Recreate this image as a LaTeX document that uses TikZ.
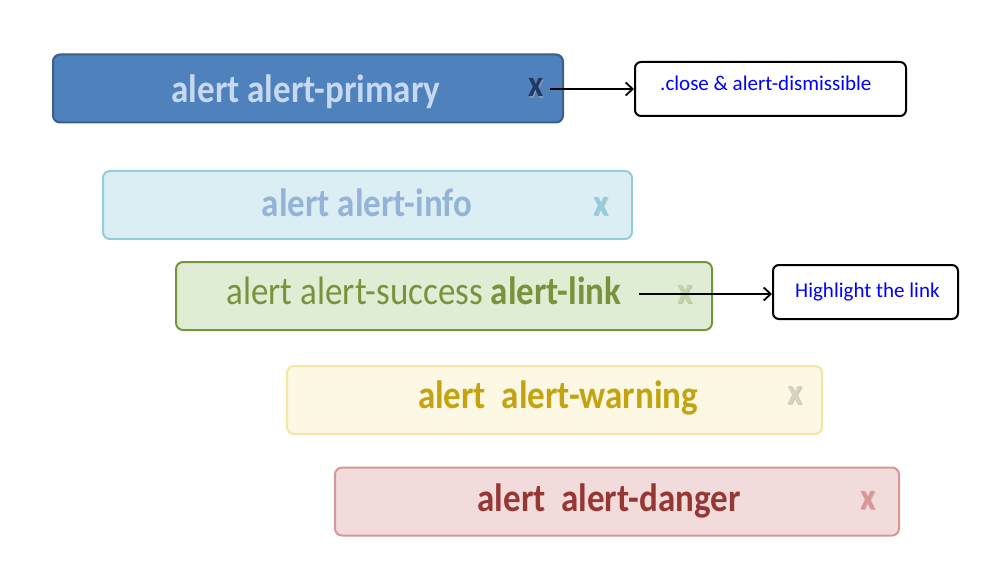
\documentclass[tikz,border=0pt]{standalone}
\usepackage{fontspec}
\setmainfont{Carlito}
\usetikzlibrary{arrows.meta}
\definecolor{pfill}{HTML}{4F81BD}
\definecolor{pborder}{HTML}{3A5F8B}
\definecolor{ptext}{HTML}{C6D9F1}
\definecolor{px}{HTML}{1F3864}
\definecolor{ifill}{HTML}{DBEEF4}
\definecolor{iborder}{HTML}{93CDDD}
\definecolor{itext}{HTML}{95B3D7}
\definecolor{ix}{HTML}{93CDDD}
\definecolor{sfill}{HTML}{DFEDD5}
\definecolor{sborder}{HTML}{77933C}
\definecolor{stext}{HTML}{77933C}
\definecolor{sx}{HTML}{C3D3A3}
\definecolor{wfill}{HTML}{FDF8E4}
\definecolor{wborder}{HTML}{F6E6A2}
\definecolor{wtext}{HTML}{C3A30F}
\definecolor{wx}{HTML}{D8D3C0}
\definecolor{dfill}{HTML}{F2DCDB}
\definecolor{dborder}{HTML}{D99694}
\definecolor{dtext}{HTML}{953735}
\definecolor{dx}{HTML}{D99694}
\definecolor{lblue}{HTML}{0000FF}
\newcommand{\tallt}[1]{\scalebox{1}[1.13]{#1}}
\begin{document}
\begin{tikzpicture}[x=1pt,y=-1pt,
  alertbox/.style={line width=2pt, rounded corners=7pt, inner sep=0pt, minimum height=68pt},
  alerttext/.style={anchor=base, inner sep=0pt, font=\fontsize{35}{38}\selectfont},
  boldtext/.style={alerttext, font=\bfseries\fontsize{35}{38}\selectfont},
  closemark/.style={anchor=base, inner sep=0pt, font=\bfseries\fontsize{33}{36}\selectfont},
  closeshadow/.style={closemark, text=black!35, opacity=0.6},
  callout/.style={draw=black, line width=2pt, rounded corners=6pt, inner sep=0pt, fill=white},
  callouttext/.style={anchor=base west, inner sep=0pt, text=lblue, font=\fontsize{21}{24}\selectfont},
  link/.style={line width=1.8pt, -{Straight Barb[length=7pt,width=13pt,line width=1.8pt]}}]
\useasboundingbox (0,0) rectangle (984,580);
% primary
\node[alertbox, draw=pborder, fill=pfill, minimum width=510pt] (pbox) at (308,88.5) {};
\node[boldtext, text=ptext] (ptxt) at (306,103) {\tallt{alert alert-primary}};
\node[closeshadow] (pxs) at (537.5,98.5) {\tallt{x}};
\node[closemark, text=px] (px) at (536,97) {\tallt{x}};
% info
\node[alertbox, draw=iborder, fill=ifill, minimum width=529pt] (ibox) at (367.5,205) {};
\node[boldtext, text=itext] (itxt) at (367,216) {\tallt{alert alert-info}};
\node[closeshadow] (ixs) at (602.5,216.5) {\tallt{x}};
\node[closemark, text=ix] (ix) at (601,215) {\tallt{x}};
% success
\node[alertbox, draw=sborder, fill=sfill, minimum width=536pt] (sbox) at (444,296) {};
\node[alerttext, text=stext] (stxt) at (424,304) {\tallt{alert alert-success \textbf{alert-link}}};
\node[closeshadow] (sxs) at (686.5,304.5) {\tallt{x}};
\node[closemark, text=sx] (sx) at (685,303) {\tallt{x}};
% warning
\node[alertbox, draw=wborder, fill=wfill, minimum width=535pt] (wbox) at (554.5,400) {};
\node[boldtext, text=wtext] (wtxt) at (558,408) {\tallt{alert\ \ alert-warning}};
\node[closeshadow] (wxs) at (796.5,405.5) {\tallt{x}};
\node[closemark, text=wx] (wx) at (795,404) {\tallt{x}};
% danger
\node[alertbox, draw=dborder, fill=dfill, minimum width=564pt] (dbox) at (617,501.5) {};
\node[boldtext, text=dtext] (dtxt) at (609,511) {\tallt{alert\ \ alert-danger}};
\node[closeshadow] (dxs) at (869.5,510.5) {\tallt{x}};
\node[closemark, text=dx] (dx) at (868,509) {\tallt{x}};
% callouts
\node[callout, minimum width=271pt, minimum height=54pt] (c1) at (770.5,89) {};
\node[callouttext] (c1t) at (660,91) {.close \& alert-dismissible};
\node[callout, minimum width=185pt, minimum height=54pt] (c2) at (865.5,292) {};
\node[callouttext] (c2t) at (795,297) {Highlight the link};
% arrows
\coordinate (a2s) at (639,294);
\draw[link] ([xshift=6pt]px.east |- 0,89) -- (c1.west |- 0,89);
\draw[link] (a2s) -- (c2.west |- 0,294);
\end{tikzpicture}
\end{document}
